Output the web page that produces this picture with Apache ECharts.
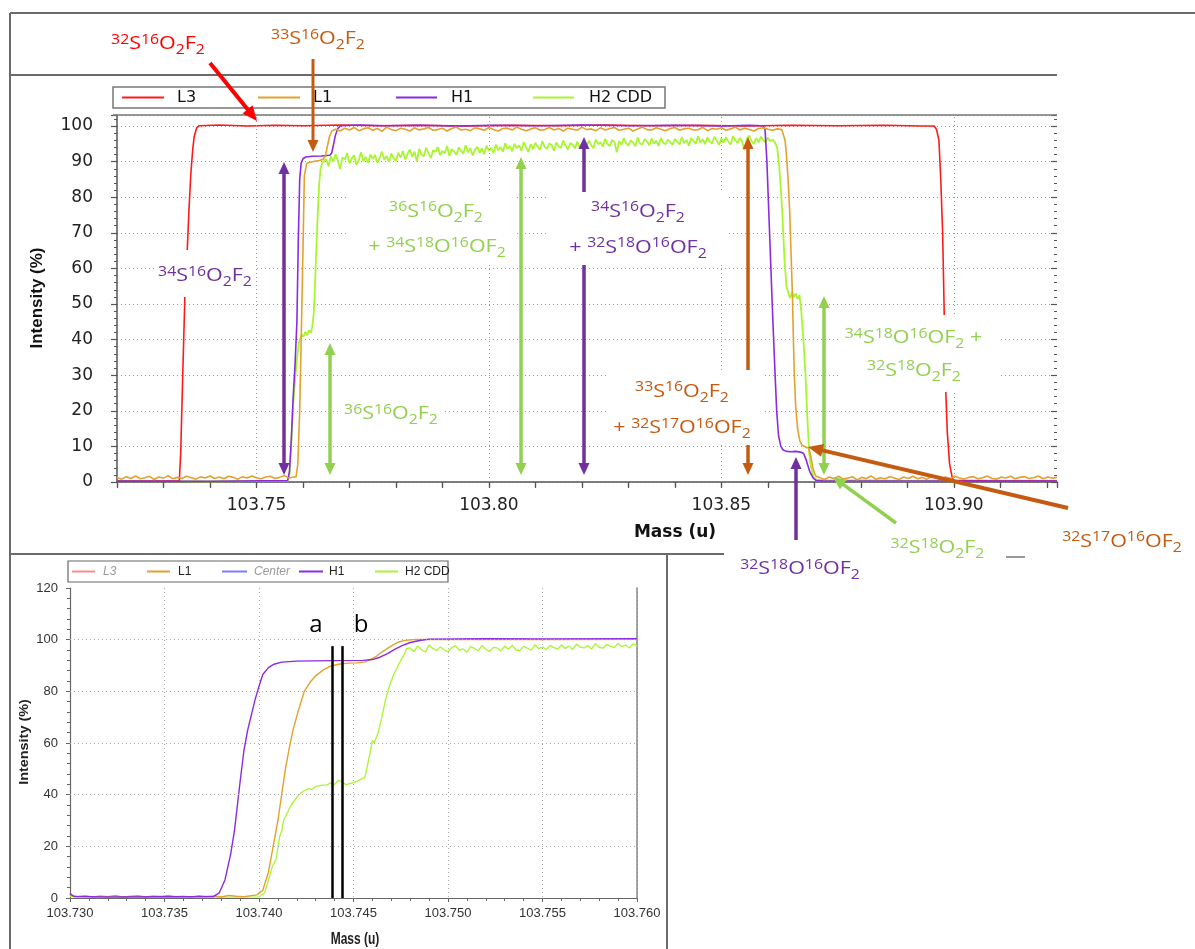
<!DOCTYPE html>
<html>
<head>
<meta charset="utf-8">
<script src="https://cdn.jsdelivr.net/npm/echarts@6/dist/echarts.min.js"></script>
<style>
html,body{margin:0;padding:0;background:#fff;}
#chart{width:1195px;height:949px;}
</style>
</head>
<body>
<div id="chart"></div>
<script>
// ---------------- Main scan (mass in u, intensity in %) ----------------
const L3_MAIN = [
  [103.7200,0.2],[103.7300,0.3],[103.7334,0.3],[103.7337,8],[103.7341,28],[103.7346,52],[103.7351,65],
  [103.7355,77],[103.7359,87],[103.7363,93.5],[103.7366,97],[103.7371,99.4],[103.7377,100.1],
  [103.7420,100.3],[103.7480,100.0],[103.7540,100.2],[103.7600,100.1],[103.7680,100.3],[103.7760,100.1],
  [103.7850,100.2],[103.7950,100.0],[103.8050,100.2],[103.8150,100.1],[103.8250,100.3],[103.8350,100.1],
  [103.8450,100.2],[103.8550,100.0],[103.8650,100.2],[103.8750,100.1],[103.8850,100.2],[103.8930,100.0],
  [103.8958,100.0],[103.8963,99],[103.8968,96],[103.8972,85],[103.8976,70],[103.8979,50],[103.8982,28],
  [103.8986,14],[103.8991,5],[103.8997,1],[103.9001,0.4],[103.9100,0.3],[103.9222,0.3]
];

const H1_MAIN = [
  [103.7200,0.3],[103.7400,0.2],[103.7567,0.4],[103.7571,3],[103.7575,12],[103.7579,24],[103.7583,33],
  [103.7587,45],[103.7590,68],[103.7593,85],[103.7596,89.5],[103.7600,90.8],[103.7606,91.3],[103.7620,91.5],
  [103.7640,91.6],[103.7658,91.8],[103.7662,92.5],[103.7666,95],[103.7670,97.5],[103.7675,99.3],[103.7681,100.1],
  [103.7720,100.3],[103.7780,100.1],[103.7850,100.2],[103.7930,100.0],[103.8010,100.2],[103.8100,100.1],
  [103.8200,100.3],[103.8300,100.1],[103.8400,100.2],[103.8500,100.0],[103.8560,100.2],[103.8590,100.1],
  [103.8594,99],[103.8598,90],[103.8602,76],[103.8606,62],[103.8610,48],[103.8615,32],[103.8619,20],
  [103.8623,13],[103.8628,10],[103.8633,9],[103.8640,8.6],[103.8650,8.5],[103.8660,8.6],[103.8670,8.4],
  [103.8677,8],[103.8683,6],[103.8690,3],[103.8697,1.2],[103.8703,0.5],[103.8720,0.3],[103.9222,0.3]
];

// L1: noisy baseline / plateau runs sampled every 0.001 u
const L1_MAIN_LEFT = { start: 103.7200, step: 0.001, values: [
  1.3,0.8,1.5,1.0,1.7,0.9,1.2,1.6,0.7,1.4,
  1.1,1.8,0.9,1.3,1.0,1.6,1.2,0.8,1.5,1.1,
  1.7,1.0,1.4,0.9,1.6,1.3,0.8,1.5,1.1,1.7,
  1.2,0.9,1.4,1.6,1.0,1.3,1.8,1.1,1.4
]};
const L1_MAIN_RISE = [
  [103.7585,1.4],[103.7589,5],[103.7593,20],[103.7596,39],[103.7600,65],[103.7603,86],[103.7608,89.5],
  [103.7615,89.8],[103.7625,90.1],[103.7635,90.3],[103.7643,90.6],[103.7648,91.5],[103.7652,94],
  [103.7657,97],[103.7662,98.6],[103.7666,99.1]
];
const L1_MAIN_TOP = { start: 103.7670, step: 0.001, values: [
  99.1,98.6,99.4,98.9,99.6,98.7,99.2,99.5,98.8,99.3,
  98.5,99.7,99.0,98.7,99.4,99.1,98.6,99.5,98.9,99.2,
  99.6,98.8,99.0,99.4,98.6,99.3,99.7,98.9,99.1,98.7,
  99.5,99.2,98.8,99.6,99.0,98.6,99.3,99.4,98.9,99.7,
  99.1,98.7,99.2,99.5,98.8,99.0,99.6,98.9,99.3,98.6,
  99.4,99.1,98.8,99.7,99.0,99.2,98.7,99.5,98.9,99.3,
  99.6,98.8,99.1,99.4,98.6,99.2,99.7,99.0,98.9,99.5,
  99.1,98.7,99.3,99.6,98.8,99.2,99.4,98.9,99.0,99.6,
  98.7,99.3,99.1,99.5,98.8,99.2,99.7,98.9,99.4,99.0,
  98.6,99.3,99.5,99.1,98.8,99.2,99.0
]};
const L1_MAIN_FALL = [
  [103.8634,98.5],[103.8637,96],[103.8640,92],[103.8644,84],[103.8647,76],[103.8650,64],[103.8653,52],
  [103.8655,40],[103.8657,30],[103.8660,21],[103.8664,15],[103.8669,11.5],[103.8674,10.3],[103.8680,9.9],
  [103.8688,9.5],[103.8692,7.5],[103.8696,4.5],[103.8700,2.5],[103.8704,1.6],[103.8708,1.2]
];
const L1_MAIN_RIGHT = { start: 103.8712, step: 0.001, values: [
  1.2,0.7,1.4,0.9,1.6,0.8,1.1,1.5,0.6,1.3,
  1.0,1.7,0.8,1.2,0.9,1.5,1.1,0.7,1.4,1.0,
  1.6,0.9,1.3,0.8,1.5,1.2,0.7,1.4,1.0,1.6,
  1.1,0.8,1.3,1.5,0.9,1.2,1.7,1.0,0.8,1.4,
  1.1,1.6,0.9,1.3,1.5,1.0,1.2,1.7,0.9,1.4,
  1.1,1.3
]};

// H2 CDD: noisy plateau sampled every 0.0005 u
const H2_MAIN_RISE = [
  [103.7200,0.3],[103.7400,0.2],[103.7567,0.3],[103.7571,2],[103.7575,11],[103.7578,20],[103.7582,27],
  [103.7586,33],[103.7591,39],[103.7597,41.5],[103.7601,40.8],[103.7605,42.2],[103.7609,41.3],[103.7613,42.6],
  [103.7617,41.9],[103.7620,43.5],[103.7623,47],[103.7625,52],[103.7628,63],[103.7632,76],[103.7635,84],
  [103.7638,88],[103.7641,89.5]
];
const H2_MAIN_TOP = { start: 103.7645, step: 0.0005, values: [
  89.2,90.8,88.6,91.5,89.9,92.1,90.3,87.9,91.2,90.6,92.4,89.5,90.9,91.8,89.1,90.4,92.6,90.1,91.3,89.7,
  92.0,90.8,91.9,89.6,91.1,92.8,90.5,91.6,89.9,92.3,91.0,90.2,
  92.5,91.1,93.0,90.6,92.2,93.4,91.4,92.8,90.0,93.6,92.0,91.5,93.9,92.4,91.0,93.2,92.7,94.1,91.8,93.0,
  92.3,94.4,91.6,93.5,92.9,91.9,94.0,93.1,92.2,94.6,92.6,93.8,91.7,93.3,94.2,92.5,93.7,92.1,94.5,93.0,
  93.9,92.4,94.8,93.2,94.1,92.8,95.2,93.6,94.4,92.9,95.0,93.8,94.6,93.1,95.5,94.0,92.7,94.9,93.5,95.3,
  94.2,93.3,95.8,94.1,93.6,95.1,94.7,93.0,95.4,94.3,93.9,95.9,94.5,93.4,95.2,94.8,93.7,95.6,94.0,94.9,
  95.3,94.1,95.9,94.6,93.8,96.2,94.9,95.5,94.2,96.4,95.0,94.4,96.1,95.6,92.6,95.8,94.7,96.6,95.2,94.5,
  96.0,95.4,94.3,96.8,95.1,94.8,96.3,95.7,94.6,96.5,95.0,95.9,94.4,96.7,95.3,94.9,96.2,95.5,94.7,96.4,
  95.6,94.8,96.9,95.2,96.1,94.5,96.6,95.8,95.0,97.1,95.4,96.3,94.9,96.8,95.7,95.1,97.0,95.9,94.7,96.5,
  95.3,96.9,95.6,94.8,97.2,96.0,95.2,96.7,95.5,93.2,96.4,97.3,95.8,95.0,96.6,95.4,97.0,96.1,95.3,96.8,
  95.7,96.2,95.5
]};
const H2_MAIN_FALL = [
  [103.8620,94],[103.8625,88],[103.8631,76],[103.8636,62],[103.8640,55],[103.8644,53.2],[103.8648,51.6],
  [103.8652,53.4],[103.8656,51.9],[103.8660,53.0],[103.8664,51.4],[103.8668,52.5],[103.8672,48],[103.8677,39],
  [103.8681,30],[103.8685,18],[103.8689,8],[103.8693,4],[103.8698,1.5],[103.8705,0.6],[103.8750,0.4],
  [103.8800,0.5],[103.8900,0.3],[103.9000,0.5],[103.9100,0.4],[103.9222,0.4]
];

// ---------------- Inset: zoom on the low-mass edge ----------------
const L1_INSET_BASE = { start: 103.7300, step: 0.0004, values: [
  1.2,0.6,0.9,0.4,0.8,0.5,1.0,0.3,0.7,0.9,
  0.4,0.8,0.6,1.0,0.5,0.7,0.3,0.9,0.6,0.8,
  0.4,1.0,0.7,0.5,0.9
]};
const L1_INSET_RISE = [
  [103.7399,1.2],[103.7402,3],[103.7405,10],[103.7408,22],[103.7410,30],[103.7412,40],[103.7414,50],
  [103.7416,58],[103.7418,65],[103.7421,73],[103.7424,80],[103.7427,83.5],[103.7430,86],[103.7434,88.3],
  [103.7437,89.5],[103.7442,90.5],[103.7447,90.9],[103.7452,91.0],[103.7456,91.4],[103.7459,92.3],
  [103.7462,93.5],[103.7465,95.2],[103.7468,96.6],[103.7471,98],[103.7474,99.1],[103.7478,99.8],
  [103.7483,100.1],[103.7500,100.0],[103.7530,100.1],[103.7560,100.0],[103.7600,100.1]
];
const H1_INSET = [
  [103.7300,1.8],[103.7302,0.6],[103.7320,0.4],[103.7350,0.5],[103.7376,0.6],[103.7379,2],[103.7382,7],
  [103.7385,17],[103.7387,26],[103.7390,45],[103.7392,57],[103.7394,65],[103.7396,71],[103.7398,77],
  [103.7400,82],[103.7402,86.5],[103.7405,89.2],[103.7408,90.5],[103.7412,91.3],[103.7420,91.7],
  [103.7440,91.9],[103.7455,92.0],[103.7460,92.3],[103.7464,93.2],[103.7468,94.6],[103.7472,96.3],
  [103.7476,97.8],[103.7480,98.9],[103.7485,99.7],[103.7490,100.2],[103.7520,100.4],[103.7550,100.3],
  [103.7600,100.4]
];
const H2_INSET_RISE = [
  [103.7300,0.5],[103.7350,0.3],[103.7400,0.4],[103.7403,2],[103.7405,7],[103.7407,12],[103.7408,11.5],
  [103.7409,15],[103.7411,24],[103.7412,26],[103.7413,30],[103.7415,33],[103.7417,36],[103.7418,35.5],
  [103.7420,39],[103.7422,40.5],[103.7424,41.5],[103.7426,42.3],[103.7428,42],[103.7430,43.2],
  [103.7433,43.6],[103.7436,43.8],[103.7438,44.6],[103.7440,44],[103.7442,45.6],[103.7444,44.9],
  [103.7446,43.9],[103.7448,44.3],[103.7450,44.8],[103.7452,45.2],[103.7454,46.0],[103.7456,46.6],
  [103.7457,50],[103.7459,57],[103.7460,61],[103.7461,60],[103.7463,64],[103.7465,70],[103.7467,77],
  [103.7469,82],[103.7471,86],[103.7473,89],[103.7475,92],[103.7477,94.5],[103.7478,96.5]
];
const H2_INSET_TOP = { start: 103.7480, step: 0.0002, values: [
  96.8,95.4,97.6,96.1,95.2,97.9,96.5,95.8,97.2,96.0,
  95.3,96.9,97.7,95.9,96.4,95.1,97.3,96.6,95.7,97.8,
  96.2,95.5,97.0,96.8,95.6,97.5,96.3,97.9,96.0,95.8,
  97.4,96.7,95.9,98.1,96.5,97.2,96.1,97.8,96.9,96.3,
  98.0,96.6,97.5,96.2,98.3,97.1,96.8,97.7,96.4,98.5,
  97.0,96.7,98.2,97.4,96.9,98.6,97.3,97.9,96.8,98.4,
  97.6
]};

// mass positions of the two markers a / b in the inset
const MARKERS = [
  { name: 'a', mass: 103.7439, top: 97.5 },
  { name: 'b', mass: 103.7444, top: 97.5 }
];
const MAIN_GRID_MASSES = [103.75, 103.80, 103.85, 103.90];
const INSET_GRID_LEVELS = [20, 40, 60, 80, 100];

// isotopologue labels (^n superscript, _n subscript)
const FORMULAS = {
  s32: '^32S^16O_2F_2',
  s33: '^33S^16O_2F_2',
  s34: '^34S^16O_2F_2',
  s36: '^36S^16O_2F_2',
  s36b: '+ ^34S^18O^16OF_2',
  s34b: '+ ^32S^18O^16OF_2',
  s33b: '+ ^32S^17O^16OF_2',
  s3418: '^34S^18O^16OF_2 +',
  s3218: '^32S^18O_2F_2',
  s3217: '^32S^17O^16OF_2',
  s321816: '^32S^18O^16OF_2'
};

// ---------------- helpers ----------------
function run(seg) {
  return seg.values.map((v, i) => [+(seg.start + i * seg.step).toFixed(5), v]);
}
const C = { L3: '#ff1a1a', L1: '#e3a12e', H1: '#8a2be2', H2: '#a8f530' };
const RED = '#ff0000', ORG = '#c55a11', PUR = '#7030a0', GRN = '#92d050';
const LABEL_FONT = '"Open Sans", "Lato", sans-serif';

function chem(s) {
  return s.replace(/\^(\d+)/g, '{p|$1}').replace(/_(\d+)/g, '{b|$1}');
}
function formula(key, x, y, color) {
  return {
    type: 'text', x: x, y: y, scaleX: 1.13, z: 120, silent: true,
    style: {
      text: chem(FORMULAS[key]), fill: color, fontFamily: LABEL_FONT, fontSize: 19,
      lineHeight: 26, align: 'center', verticalAlign: 'middle',
      rich: {
        p: { fill: color, fontFamily: LABEL_FONT, fontSize: 14, lineHeight: 15, padding: [0, 0, 8, 0] },
        b: { fill: color, fontFamily: LABEL_FONT, fontSize: 14, lineHeight: 15, padding: [13, 0, 0, 0] }
      }
    }
  };
}
function mask(x1, y1, x2, y2) {
  return { type: 'rect', z: 115, silent: true, shape: { x: x1, y: y1, width: x2 - x1, height: y2 - y1 }, style: { fill: '#fff' } };
}
function arrow(x1, y1, x2, y2, color, w, hl, hw, twoHeads) {
  const dx = x2 - x1, dy = y2 - y1, L = Math.hypot(dx, dy);
  const ux = dx / L, uy = dy / L, nx = -uy, ny = ux;
  const sx = twoHeads ? x1 + ux * hl * 0.7 : x1, sy = twoHeads ? y1 + uy * hl * 0.7 : y1;
  const ex = x2 - ux * hl * 0.7, ey = y2 - uy * hl * 0.7;
  const head = (tx, ty, vx, vy) => ({
    type: 'polygon', z: 110, silent: true,
    shape: { points: [[tx, ty],
      [tx - vx * hl + nx * hw / 2, ty - vy * hl + ny * hw / 2],
      [tx - vx * hl - nx * hw / 2, ty - vy * hl - ny * hw / 2]] },
    style: { fill: color }
  });
  const els = [{ type: 'line', z: 110, silent: true, shape: { x1: sx, y1: sy, x2: ex, y2: ey }, style: { stroke: color, lineWidth: w } }];
  els.push(head(x2, y2, ux, uy));
  if (twoHeads) els.push(head(x1, y1, -ux, -uy));
  return els;
}
function hline(x1, x2, y, color, w) {
  return { type: 'line', z: 5, silent: true, shape: { x1: x1, y1: y, x2: x2, y2: y }, style: { stroke: color, lineWidth: w } };
}
function vline(x, y1, y2, color, w) {
  return { type: 'line', z: 5, silent: true, shape: { x1: x, y1: y1, x2: x, y2: y2 }, style: { stroke: color, lineWidth: w } };
}
function legendItem(x1, x2, y, color, label, tx, font, textColor, italic) {
  return [
    { type: 'line', z: 6, silent: true, shape: { x1: x1, y1: y, x2: x2, y2: y }, style: { stroke: color, lineWidth: 2 } },
    { type: 'text', z: 6, silent: true, x: tx, y: y,
      style: { text: label, fill: textColor, font: (italic ? 'italic ' : '') + font, align: 'left', verticalAlign: 'middle' } }
  ];
}

function lineSeries(name, data, color, xi, yi, width) {
  return {
    type: 'line', name: name, data: data, xAxisIndex: xi, yAxisIndex: yi,
    showSymbol: false, symbol: 'none', silent: true, animation: false, clip: true,
    lineStyle: { color: color, width: width }, itemStyle: { color: color }, z: 3
  };
}

// ---------------- series data ----------------
const l1Main = run(L1_MAIN_LEFT).concat(L1_MAIN_RISE, run(L1_MAIN_TOP), L1_MAIN_FALL, run(L1_MAIN_RIGHT));
const h2Main = H2_MAIN_RISE.concat(run(H2_MAIN_TOP), H2_MAIN_FALL);
const l1Inset = run(L1_INSET_BASE).concat(L1_INSET_RISE);
const h2Inset = H2_INSET_RISE.concat(run(H2_INSET_TOP));

const DOT = [1, 3];
const TICK_FONT = '"DejaVu Sans", sans-serif';
const NARROW = '"Liberation Sans Narrow", "Arial Narrow", "Liberation Sans", sans-serif';

const option = {
  animation: false,
  backgroundColor: '#fff',
  grid: [
    { left: 117, top: 115, width: 940, height: 367, outerBoundsMode: 'none', containLabel: false },
    { left: 70, top: 588, width: 567, height: 310, outerBoundsMode: 'none', containLabel: false }
  ],
  xAxis: [
    { gridIndex: 0, type: 'value', min: 103.72, max: 103.9222, interval: 0.01,
      axisLine: { lineStyle: { color: '#555', width: 1.5 } },
      axisTick: { show: true, length: 6, lineStyle: { color: '#555', width: 1.2 } },
      axisLabel: { fontFamily: TICK_FONT, fontSize: 17, color: '#222', margin: 15,
        formatter: v => (Math.round(v * 100) % 5 === 0 ? v.toFixed(2) : '') },
      splitLine: { show: false } },
    { gridIndex: 0, type: 'value', min: 103.72, max: 103.9222, interval: 0.01,
      axisLine: { show: false }, axisLabel: { show: false }, splitLine: { show: false },
      axisTick: { show: true, inside: true, length: 5, lineStyle: { color: '#555', width: 1.2 } } },
    { gridIndex: 1, type: 'value', min: 103.730, max: 103.760, interval: 0.005,
      axisLine: { lineStyle: { color: '#666', width: 1.2 } },
      axisTick: { show: true, length: 4, lineStyle: { color: '#666' } },
      minorTick: { show: true, splitNumber: 5, length: 3, lineStyle: { color: '#666' } },
      axisLabel: { fontFamily: NARROW, fontSize: 13, color: '#333', margin: 9, formatter: v => v.toFixed(3) },
      splitLine: { show: true, lineStyle: { type: DOT, color: '#aaa', width: 1 } } }
  ],
  yAxis: [
    { gridIndex: 0, type: 'value', min: 0, max: 103.1, interval: 10,
      axisLine: { show: true, lineStyle: { color: '#555', width: 1.5 } },
      axisTick: { show: true, length: 6, lineStyle: { color: '#555', width: 1.2 } },
      minorTick: { show: true, splitNumber: 5, length: 3, lineStyle: { color: '#555' } },
      axisLabel: { fontFamily: TICK_FONT, fontSize: 17, color: '#222', margin: 24,
        formatter: v => (v <= 100 && Math.abs(v / 10 - Math.round(v / 10)) < 1e-6 ? String(Math.round(v)) : '') },
      splitLine: { show: true, lineStyle: { type: DOT, color: '#999', width: 1 } } },
    { gridIndex: 0, type: 'value', min: 0, max: 103.1, interval: 10,
      axisLine: { show: false }, axisLabel: { show: false }, splitLine: { show: false },
      axisTick: { show: true, inside: true, length: 6, lineStyle: { color: '#555', width: 1.2 } },
      minorTick: { show: true, splitNumber: 5, length: 3, lineStyle: { color: '#555' } } },
    { gridIndex: 1, type: 'value', min: 0, max: 120, interval: 20,
      axisLine: { show: true, lineStyle: { color: '#666', width: 1.2 } },
      axisTick: { show: true, length: 4, lineStyle: { color: '#666' } },
      minorTick: { show: true, splitNumber: 5, length: 3, lineStyle: { color: '#666' } },
      axisLabel: { fontFamily: NARROW, fontSize: 13, color: '#333', margin: 12 },
      splitLine: { show: false } },
    { gridIndex: 1, type: 'value', min: 0, max: 120, position: 'right',
      axisLine: { show: true, lineStyle: { color: '#888', width: 1.5 } },
      axisTick: { show: false }, axisLabel: { show: false }, splitLine: { show: false } }
  ],
  series: [
    // vertical gridlines of the main scan
    { type: 'line', data: [], xAxisIndex: 0, yAxisIndex: 0, z: 1, silent: true,
      markLine: { silent: true, symbol: 'none', animation: false, label: { show: false },
        lineStyle: { type: DOT, color: '#999', width: 1 },
        data: MAIN_GRID_MASSES.map(m => ({ xAxis: m })) } },
    // horizontal gridlines of the inset
    { type: 'line', data: [], xAxisIndex: 2, yAxisIndex: 2, z: 1, silent: true,
      markLine: { silent: true, symbol: 'none', animation: false, label: { show: false },
        lineStyle: { type: DOT, color: '#aaa', width: 1 },
        data: INSET_GRID_LEVELS.map(v => ({ yAxis: v })) } },
    lineSeries('H2 CDD', h2Main, C.H2, 0, 0, 1.8),
    lineSeries('L3', L3_MAIN, C.L3, 0, 0, 1.6),
    lineSeries('H1', H1_MAIN, C.H1, 0, 0, 1.6),
    lineSeries('L1', l1Main, C.L1, 0, 0, 1.6),
    lineSeries('H2 CDD', h2Inset, C.H2, 2, 2, 1.3),
    lineSeries('L1', l1Inset, C.L1, 2, 2, 1.4),
    lineSeries('H1', H1_INSET, C.H1, 2, 2, 1.4),
    // marker lines a / b
    { type: 'line', data: [], xAxisIndex: 2, yAxisIndex: 2, z: 4, silent: true,
      markLine: { silent: true, symbol: 'none', animation: false, label: { show: false },
        lineStyle: { type: 'solid', color: '#000', width: 2.5 },
        data: MARKERS.map(m => [{ coord: [m.mass, 0] }, { coord: [m.mass, m.top] }]) } }
  ]
};

// ---------------- frames, legends, axis titles, annotations ----------------
const FRAME = '#6b6b6b';
let g = [];
g.push(hline(10, 1195, 13, FRAME, 2));
g.push(vline(10, 13, 949, FRAME, 2));
g.push(hline(10, 1057, 75, FRAME, 2));
g.push(hline(113, 1057, 115, '#777', 1.5));
g.push(hline(10, 724, 554, FRAME, 2));
g.push(vline(667, 554, 949, FRAME, 2));
g.push(hline(1006, 1025, 557, '#777', 1.5));

// main legend
g.push({ type: 'rect', z: 5, silent: true, shape: { x: 113, y: 87, width: 552, height: 21 },
  style: { fill: '#fff', stroke: '#777', lineWidth: 1.5 } });
const LF = '16px "DejaVu Sans", sans-serif';
g = g.concat(legendItem(122, 164, 97.5, C.L3, 'L3', 177, LF, '#111'));
g = g.concat(legendItem(258, 300, 97.5, C.L1, 'L1', 313, LF, '#111'));
g = g.concat(legendItem(396, 437, 97.5, C.H1, 'H1', 451, LF, '#111'));
g = g.concat(legendItem(533, 574, 97.5, C.H2, 'H2 CDD', 589, LF, '#111'));

// inset legend
g.push({ type: 'rect', z: 5, silent: true, shape: { x: 68, y: 561, width: 380, height: 21 },
  style: { fill: '#fff', stroke: '#666', lineWidth: 1.2 } });
const SF = '12px ' + NARROW;
g = g.concat(legendItem(72, 95, 571.5, '#ff8c8c', 'L3', 103, SF, '#999', true));
g = g.concat(legendItem(147, 170, 571.5, C.L1, 'L1', 178, SF, '#222'));
g = g.concat(legendItem(222, 247, 571.5, '#7b7bff', 'Center', 254, SF, '#999', true));
g = g.concat(legendItem(299, 323, 571.5, C.H1, 'H1', 329, SF, '#222'));
g = g.concat(legendItem(375, 398, 571.5, C.H2, 'H2 CDD', 405, SF, '#222'));

// axis titles
g.push({ type: 'text', z: 6, silent: true, x: 675, y: 533,
  style: { text: 'Mass (u)', fill: '#111', font: 'bold 17px "DejaVu Sans", sans-serif', align: 'center', verticalAlign: 'middle' } });
g.push({ type: 'text', z: 6, silent: true, x: 37, y: 298, rotation: Math.PI / 2,
  style: { text: 'Intensity (%)', fill: '#111', font: 'bold 17px "Liberation Sans", Arial, sans-serif', align: 'center', verticalAlign: 'middle' } });
g.push({ type: 'text', z: 6, silent: true, x: 355, y: 940, scaleY: 1.3,
  style: { text: 'Mass (u)', fill: '#222', font: 'bold 12px "Liberation Sans", Arial, sans-serif', align: 'center', verticalAlign: 'middle' } });
g.push({ type: 'text', z: 6, silent: true, x: 25, y: 742, rotation: Math.PI / 2, scaleX: 1.2,
  style: { text: 'Intensity (%)', fill: '#222', font: 'bold 12px "Liberation Sans", Arial, sans-serif', align: 'center', verticalAlign: 'middle' } });

// marker letters
g.push({ type: 'text', z: 6, silent: true, x: 316, y: 625,
  style: { text: MARKERS[0].name, fill: '#000', font: '24px ' + LABEL_FONT, align: 'center', verticalAlign: 'middle' } });
g.push({ type: 'text', z: 6, silent: true, x: 361, y: 625,
  style: { text: MARKERS[1].name, fill: '#000', font: '24px ' + LABEL_FONT, align: 'center', verticalAlign: 'middle' } });

// white boxes behind in-plot labels
g.push(mask(157, 250, 255, 297));
g.push(mask(347, 192, 516, 265));
g.push(mask(546, 192, 729, 265));
g.push(mask(608, 370, 765, 445));
g.push(mask(838, 315, 1001, 392));
g.push(mask(340, 401, 445, 428));

// arrows
g = g.concat(
  arrow(210, 63, 257, 121, RED, 4, 15, 13),
  arrow(313, 59, 313, 152, ORG, 3, 12, 11),
  arrow(284, 475, 284, 162, PUR, 3.5, 12, 11, true),
  arrow(330, 475, 330, 343, GRN, 3.5, 12, 11, true),
  arrow(521, 475, 521, 157, GRN, 3.5, 12, 11, true),
  arrow(584, 475, 584, 137, PUR, 3.5, 12, 11, true),
  arrow(748, 475, 748, 137, ORG, 3.5, 12, 11, true),
  arrow(824, 475, 824, 296, GRN, 3.5, 12, 11, true),
  arrow(796, 540, 796, 457, PUR, 3.5, 12, 11),
  arrow(896, 523, 833, 477, GRN, 3.5, 13, 12),
  arrow(1068, 508, 808, 447, ORG, 4, 15, 13)
);

// formula labels
g.push(formula('s32', 158, 44, RED));
g.push(formula('s33', 318, 39, ORG));
g.push(formula('s34', 205, 276, PUR));
g.push(formula('s36', 391, 414, GRN));
g.push(formula('s36', 436, 211.5, GRN));
g.push(formula('s36b', 437, 247, GRN));
g.push(formula('s34', 638, 211.5, PUR));
g.push(formula('s34b', 638, 247.5, PUR));
g.push(formula('s33', 682, 391.5, ORG));
g.push(formula('s33b', 682, 428, ORG));
g.push(formula('s3418', 913.5, 338, GRN));
g.push(formula('s3218', 914, 370.5, GRN));
g.push(formula('s3217', 1122, 541.5, ORG));
g.push(formula('s3218', 937.5, 548, GRN));
g.push(formula('s321816', 800, 569, PUR));

option.graphic = { elements: g };

const chart = echarts.init(document.getElementById('chart'), null, { renderer: 'canvas', width: 1195, height: 949 });
chart.setOption(option);
</script>
</body>
</html>
